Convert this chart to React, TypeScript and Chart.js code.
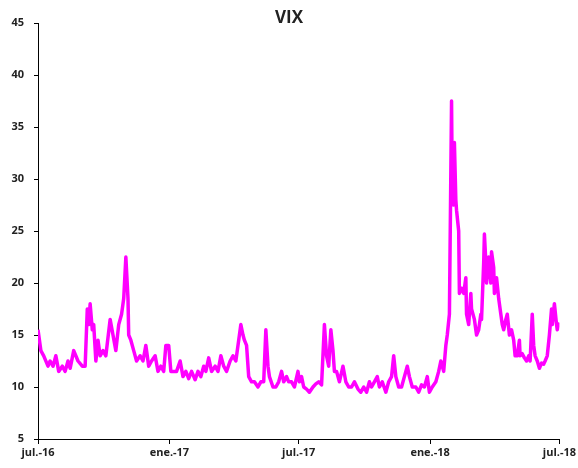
import { useEffect, useRef } from "react";
import { Chart, registerables } from "chart.js";

Chart.register(...registerables);

// days elapsed since 1 Jul 2016
const dayOffsets = [
  0, 4, 8, 14, 17, 21, 25, 29, 34, 38, 42, 45, 50, 56, 62, 66, 69, 71, 73, 76,
  78, 81, 84, 87, 91, 95, 101, 105, 109, 113, 117, 120, 123, 126, 127, 130, 134, 138, 143, 147,
  151, 155, 159, 164, 168, 172, 176, 179, 183, 186, 190, 194, 199, 203, 207, 211, 215, 220, 224, 228,
  232, 235, 239, 243, 248, 252, 256, 260, 264, 269, 273, 277, 281, 284, 287, 289, 292, 295, 299, 303,
  308, 312, 316, 319, 322, 324, 329, 333, 337, 341, 344, 348, 351, 355, 359, 364, 366, 369, 372, 376,
  380, 385, 389, 393, 397, 401, 404, 407, 410, 413, 415, 418, 422, 427, 431, 435, 439, 443, 448, 452,
  456, 460, 464, 467, 471, 475, 478, 482, 487, 491, 495, 498, 501, 505, 509, 513, 517, 520, 524, 529,
  533, 537, 541, 545, 548, 552, 557, 561, 564, 568, 571, 573, 576, 579, 580, 582, 583, 585, 586, 589,
  590, 593, 596, 599, 600, 603, 606, 607, 611, 614, 617, 620, 621, 624, 625, 627, 628, 631, 634, 635,
  638, 639, 642, 645, 648, 650, 652, 655, 657, 660, 663, 666, 668, 671, 674, 675, 678, 681, 684, 687,
  689, 692, 694, 696, 699, 702, 705, 708, 710, 713, 716, 719, 720, 723, 726, 727, 730,
];

const vixValues = [
  15.5, 13.5, 13, 12, 12.5, 12, 13, 11.5, 12, 11.5, 12.5, 11.8, 13.5, 12.5, 12, 12, 17.5, 16, 18, 15.5,
  16, 12.5, 14.5, 13, 13.5, 13, 16.5, 15, 13.5, 16, 17, 18.5, 22.5, 18.5, 15, 14.5, 13.5, 12.5, 13, 12.5,
  14, 12, 12.5, 13, 11.5, 12, 11.5, 14, 14, 11.5, 11.5, 11.5, 12.5, 11, 11.5, 10.8, 11.5, 10.7, 11.5, 11,
  12, 11.5, 12.8, 11.5, 12, 11.5, 13, 12, 11.5, 12.5, 13, 12.5, 14.5, 16, 15, 14.5, 14, 11, 10.5, 10.5,
  10, 10.5, 10.5, 15.5, 12, 11, 10, 10, 10.5, 11.5, 10.5, 11, 10.5, 10.5, 10, 11.5, 10.5, 11, 10, 9.8,
  9.5, 10, 10.3, 10.5, 10.2, 16, 13, 12, 15.5, 13.5, 11.5, 11.5, 10.5, 12, 10.5, 10, 10, 10.5, 9.8, 9.5,
  10, 9.5, 10.5, 10, 10.5, 11, 10, 10.5, 9.5, 10.5, 11, 13, 11, 10, 10, 11, 12, 11, 10, 10,
  9.5, 10.2, 10, 11, 9.5, 10, 10.5, 11.5, 12.5, 11.5, 14, 15, 17, 37.5, 29, 27.5, 33.5, 28, 27, 25,
  19, 19.5, 19, 20.5, 17, 16, 19, 17.5, 16.5, 15, 15.5, 17, 16.5, 22, 24.7, 22, 20, 22.5, 20, 23,
  21.5, 19, 20.5, 18.5, 17, 16, 15.5, 16.5, 17, 15, 15.5, 14.5, 13, 13, 14.5, 13, 13.2, 12.8, 12.5, 13,
  12.5, 17, 14, 13, 12.5, 11.8, 12.3, 12.2, 12.5, 13, 15, 17.5, 16, 18, 16, 15.5, 16.2,
];

const xTickDays = [0, 184, 365, 549, 730];
const xTickLabels = ["jul.-16", "ene.-17", "jul.-17", "ene.-18", "jul.-18"];
const yTickValues = [5, 10, 15, 20, 25, 30, 35, 40, 45];
const chartTitle = "VIX";

const FONT = "'Open Sans', 'DejaVu Sans', sans-serif";

export default function App() {
  const ref = useRef<HTMLCanvasElement>(null);

  useEffect(() => {
    const titlePlugin = {
      id: "customTitle",
      afterDraw(chart: any) {
        const ctx = chart.ctx;
        ctx.save();
        ctx.font = `bold 17px ${FONT}`;
        ctx.fillStyle = "#222";
        ctx.textAlign = "center";
        ctx.textBaseline = "middle";
        ctx.fillText(chartTitle, chart.width / 2, 18);
        ctx.restore();
      },
    };

    const chart = new Chart(ref.current!, {
      type: "line",
      data: {
        datasets: [
          {
            label: chartTitle,
            data: dayOffsets.map((d, i) => ({ x: d, y: vixValues[i] })),
            borderColor: "#ff00ff",
            backgroundColor: "#ff00ff",
            borderWidth: 3.5,
            borderJoinStyle: "round",
            pointRadius: 0,
            tension: 0,
            fill: false,
          },
        ],
      },
      options: {
        animation: false,
        responsive: false,
        layout: { padding: { top: 23, right: 18, left: 0, bottom: 0 } },
        plugins: {
          legend: { display: false },
          tooltip: { enabled: false },
          title: { display: false },
        },
        scales: {
          x: {
            type: "linear",
            min: 0,
            max: 730,
            afterBuildTicks: (s: any) => {
              s.ticks = xTickDays.map((v) => ({ value: v }));
            },
            afterFit: (s: any) => {
              s.height = 29;
            },
            ticks: {
              autoSkip: false,
              maxRotation: 0,
              padding: 2,
              color: "#222",
              font: { family: FONT, size: 11, weight: "bold" },
              callback: (_v: any, i: number) => xTickLabels[i],
            },
            grid: { drawOnChartArea: false, tickLength: 5, color: "#000" },
            border: { color: "#000", width: 1 },
          },
          y: {
            type: "linear",
            min: 5,
            max: 45,
            afterBuildTicks: (s: any) => {
              s.ticks = yTickValues.map((v) => ({ value: v }));
            },
            afterFit: (s: any) => {
              s.width = 38;
            },
            ticks: {
              padding: 10,
              color: "#222",
              font: { family: FONT, size: 11, weight: "bold" },
            },
            grid: { drawOnChartArea: false, tickLength: 4, color: "#000" },
            border: { color: "#000", width: 1 },
          },
        },
      },
      plugins: [titlePlugin],
    });
    return () => chart.destroy();
  }, []);

  return (
    <div style={{ position: "fixed", left: 0, top: 0, width: 578, height: 468, background: "#fff" }}>
      <canvas ref={ref} width={578} height={468} style={{ display: "block" }} />
    </div>
  );
}
